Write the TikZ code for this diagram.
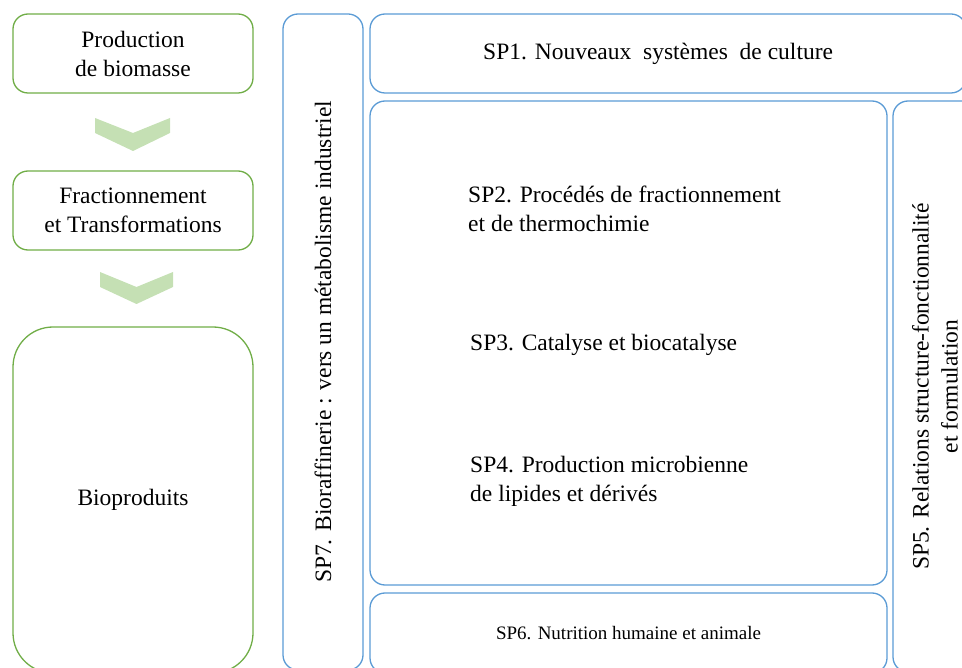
\documentclass[tikz,border=0pt]{standalone}
\usepackage{fontspec}
\setmainfont{Liberation Serif}

\definecolor{stagegreen}{HTML}{70AD47}
\definecolor{chevrongreen}{HTML}{C5E0B4}
\definecolor{spblue}{HTML}{5B9BD5}

\begin{document}
\begin{tikzpicture}[x=1pt, y=-1pt,
    stage/.style={draw=stagegreen, line width=1.3pt, rounded corners=15pt,
        align=center, font=\fontsize{23.5}{29}\selectfont},
    spbox/.style={draw=spblue, line width=1.3pt, rounded corners=15pt,
        align=center, font=\fontsize{23.5}{29}\selectfont},
    sptext/.style={inner sep=0pt, anchor=west, align=left,
        font=\fontsize{23.5}{29}\selectfont}]
        \useasboundingbox (0,0) rectangle (962,668);
        \clip (0,0) rectangle (962,668);

        % chaine de valeur
        \node[stage, minimum width=240, minimum height=79] (prod) at (133, 53.5) {Production\\de biomasse};
        \node[stage, minimum width=240, minimum height=79] (frac) at (133, 210.5) {Fractionnement\\et Transformations};
        \node[stage, minimum width=240, minimum height=346, rounded corners=40pt] (bio) at (133, 500) {Bioproduits};

        \fill[chevrongreen] (95,118) -- (133,133) -- (170,118) -- (170,133) -- (133,151) -- (95,133) -- cycle;
        \fill[chevrongreen] (100,272) -- (136.5,287) -- (173,272) -- (173,287) -- (136.5,304) -- (100,287) -- cycle;

        % sous-projets
        \node[spbox, rotate=90, minimum width=656, minimum height=80] (sp7) at (323, 342) {SP7. Bioraffinerie : vers un métabolisme industriel};
        \node[spbox, minimum width=596, minimum height=79] (sp1) at (668, 53.5) {};
        \node[sptext] (sp1text) at (483, 54) {SP1. Nouveaux\ \ systèmes\ \ de culture};
        \node[spbox, minimum width=517, minimum height=484] (core) at (628.5, 343) {};
        \node[spbox, rotate=90, minimum width=571, minimum height=84] (sp5) at (935, 386.5) {SP5. Relations structure-fonctionnalité\\et formulation};
        \node[spbox, minimum width=517, minimum height=80, font=\fontsize{19}{23}\selectfont] (sp6) at (628.5, 633) {SP6. Nutrition humaine et animale};

        \node[sptext] (sp2) at (468, 208.5) {SP2. Procédés de fractionnement\\et de thermochimie};
        \node[sptext] (sp3) at (470, 345) {SP3. Catalyse et biocatalyse};
        \node[sptext] (sp4) at (470, 481.5) {SP4. Production microbienne\\de lipides et dérivés};
\end{tikzpicture}
\end{document}
